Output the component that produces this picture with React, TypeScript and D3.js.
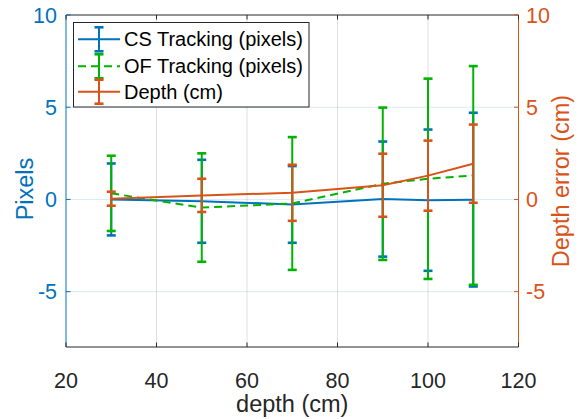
import React, { useRef, useEffect } from 'react';
import * as d3 from 'd3';

// depth positions (cm)
const depths = [30, 50, 70, 90, 100, 110];

// CS tracking (pixels) mean and error
const csMean = [0.0, -0.1, -0.27, 0.02, -0.04, -0.01];
const csErr = [1.95, 2.25, 2.08, 3.12, 3.83, 4.71];

// OF tracking (pixels) mean and error
const ofMean = [0.33, -0.44, -0.22, 0.85, 1.12, 1.3];
const ofErr = [2.04, 2.94, 3.6, 4.13, 5.43, 5.93];

// Depth error (cm) mean and error
const depthMean = [0.04, 0.22, 0.36, 0.77, 1.29, 1.94];
const depthErr = [0.38, 0.9, 1.52, 1.71, 1.9, 2.12];

const xTicks = [20, 40, 60, 80, 100, 120];
const yTicks = [-5, 0, 5, 10];

const legendLabels = ['CS Tracking (pixels)', 'OF Tracking (pixels)', 'Depth (cm)'];

const BLUE = '#0072BD';
const ORANGE = '#D95319';
const GREEN = '#00B300';
const AXIS = '#262626';
const FONT = "'Liberation Sans', Arial, Helvetica, sans-serif";

const App = () => {
  const svgRef = useRef<SVGSVGElement | null>(null);

  useEffect(() => {
    if (!svgRef.current) return;
    const width = 584;
    const height = 419;
    const margin = { top: 15, right: 65.5, bottom: 72, left: 66 };

    const svg = d3.select(svgRef.current);
    svg.selectAll('*').remove();
    svg.attr('width', width).attr('height', height);

    const xScale = d3.scaleLinear().domain([20, 120]).range([margin.left, width - margin.right]);
    const yLeft = d3.scaleLinear().domain([-8, 10]).range([height - margin.bottom, margin.top]);
    const yRight = d3.scaleLinear().domain([-8, 10]).range([height - margin.bottom, margin.top]);

    const x0 = margin.left;
    const x1 = width - margin.right;
    const y0 = height - margin.bottom;
    const y1 = margin.top;

    svg.append('rect').attr('width', width).attr('height', height).attr('fill', '#fff');

    // grid
    const grid = svg.append('g');
    xTicks.slice(1, -1).forEach(t => {
      grid.append('line')
        .attr('x1', xScale(t)).attr('x2', xScale(t))
        .attr('y1', y0).attr('y2', y1)
        .attr('stroke', AXIS).attr('stroke-opacity', 0.15).attr('stroke-width', 1);
    });
    yTicks.filter(t => t < 10).forEach(t => {
      grid.append('line')
        .attr('x1', x0).attr('x2', x1)
        .attr('y1', yLeft(t)).attr('y2', yLeft(t))
        .attr('stroke', BLUE).attr('stroke-opacity', 0.15).attr('stroke-width', 1);
    });

    // series
    const drawSeries = (means: number[], errs: number[], color: string, y: d3.ScaleLinear<number, number>, dash?: string) => {
      const g = svg.append('g');
      const line = d3.line<number>()
        .x((_, i) => xScale(depths[i]))
        .y(d => y(d));
      g.append('path')
        .attr('d', line(means))
        .attr('fill', 'none')
        .attr('stroke', color)
        .attr('stroke-width', 2)
        .attr('stroke-dasharray', dash || null);
      means.forEach((m, i) => {
        const cx = xScale(depths[i]);
        g.append('line')
          .attr('x1', cx).attr('x2', cx)
          .attr('y1', y(m - errs[i])).attr('y2', y(m + errs[i]))
          .attr('stroke', color).attr('stroke-width', 2);
        [m - errs[i], m + errs[i]].forEach(v => {
          g.append('line')
            .attr('x1', cx - 4.5).attr('x2', cx + 4.5)
            .attr('y1', y(v)).attr('y2', y(v))
            .attr('stroke', color).attr('stroke-width', 2.6);
        });
      });
    };

    drawSeries(csMean, csErr, BLUE, yLeft);
    drawSeries(ofMean, ofErr, GREEN, yLeft, '8,5');
    drawSeries(depthMean, depthErr, ORANGE, yRight);

    // axes box
    const axes = svg.append('g');
    axes.append('line').attr('x1', x0).attr('x2', x1).attr('y1', y1).attr('y2', y1)
      .attr('stroke', AXIS).attr('stroke-width', 1);
    axes.append('line').attr('x1', x0).attr('x2', x1).attr('y1', y0).attr('y2', y0)
      .attr('stroke', AXIS).attr('stroke-width', 1);
    axes.append('line').attr('x1', x0).attr('x2', x0).attr('y1', y0).attr('y2', y1)
      .attr('stroke', BLUE).attr('stroke-width', 1);
    axes.append('line').attr('x1', x1).attr('x2', x1).attr('y1', y0).attr('y2', y1)
      .attr('stroke', ORANGE).attr('stroke-width', 1);

    // x ticks
    xTicks.forEach(t => {
      const px = xScale(t);
      axes.append('line').attr('x1', px).attr('x2', px).attr('y1', y0).attr('y2', y0 - 4.5)
        .attr('stroke', AXIS);
      axes.append('line').attr('x1', px).attr('x2', px).attr('y1', y1).attr('y2', y1 + 4.5)
        .attr('stroke', AXIS);
      axes.append('text')
        .attr('x', px).attr('y', 387.5)
        .attr('text-anchor', 'middle')
        .attr('font-family', FONT).attr('font-size', 21.5)
        .attr('fill', AXIS)
        .text(t);
    });

    // y ticks
    yTicks.forEach(t => {
      const py = yLeft(t);
      axes.append('line').attr('x1', x0).attr('x2', x0 + 4.5).attr('y1', py).attr('y2', py)
        .attr('stroke', BLUE);
      axes.append('text')
        .attr('x', 57).attr('y', py + 7.7)
        .attr('text-anchor', 'end')
        .attr('font-family', FONT).attr('font-size', 21.5)
        .attr('fill', BLUE)
        .text(t);
      const pr = yRight(t);
      axes.append('line').attr('x1', x1).attr('x2', x1 - 4.5).attr('y1', pr).attr('y2', pr)
        .attr('stroke', ORANGE);
      axes.append('text')
        .attr('x', 526).attr('y', pr + 7.7)
        .attr('text-anchor', 'start')
        .attr('font-family', FONT).attr('font-size', 21.5)
        .attr('fill', ORANGE)
        .text(t);
    });

    // axis labels
    svg.append('text')
      .attr('x', (x0 + x1) / 2).attr('y', 412)
      .attr('text-anchor', 'middle')
      .attr('font-family', FONT).attr('font-size', 23.5)
      .attr('fill', AXIS)
      .text('depth (cm)');

    svg.append('text')
      .attr('transform', `translate(33,${(y0 + y1) / 2 + 8}) rotate(-90)`)
      .attr('text-anchor', 'middle')
      .attr('font-family', FONT).attr('font-size', 23.5)
      .attr('fill', BLUE)
      .text('Pixels');

    svg.append('text')
      .attr('transform', `translate(569,${(y0 + y1) / 2}) rotate(-90)`)
      .attr('text-anchor', 'middle')
      .attr('font-family', FONT).attr('font-size', 23.5)
      .attr('fill', ORANGE)
      .text('Depth error (cm)');

    // legend
    const legend = svg.append('g');
    legend.append('rect')
      .attr('x', 73.5).attr('y', 22.5)
      .attr('width', 235.5).attr('height', 84.5)
      .attr('fill', '#fff')
      .attr('stroke', AXIS).attr('stroke-width', 1);

    const colors = [BLUE, GREEN, ORANGE];
    const dashes = [null, '8,5', null];
    const rowY = [39.3, 66.3, 91.7];
    legendLabels.forEach((label, i) => {
      const cy = rowY[i];
      legend.append('line')
        .attr('x1', 78).attr('x2', 120).attr('y1', cy).attr('y2', cy)
        .attr('stroke', colors[i]).attr('stroke-width', 2)
        .attr('stroke-dasharray', dashes[i]);
      legend.append('line')
        .attr('x1', 99).attr('x2', 99).attr('y1', cy - 12).attr('y2', cy + 12)
        .attr('stroke', colors[i]).attr('stroke-width', 2);
      [cy - 12, cy + 12].forEach(v => {
        legend.append('line')
          .attr('x1', 94.5).attr('x2', 103.5).attr('y1', v).attr('y2', v)
          .attr('stroke', colors[i]).attr('stroke-width', 2.6);
      });
      legend.append('text')
        .attr('x', 124).attr('y', cy + 7)
        .attr('font-family', FONT).attr('font-size', 20)
        .attr('fill', '#000')
        .text(label);
    });
  }, []);

  return (
    <svg ref={svgRef} style={{ position: 'absolute', left: 0, top: 0, display: 'block' }}></svg>
  );
};

export default App;
